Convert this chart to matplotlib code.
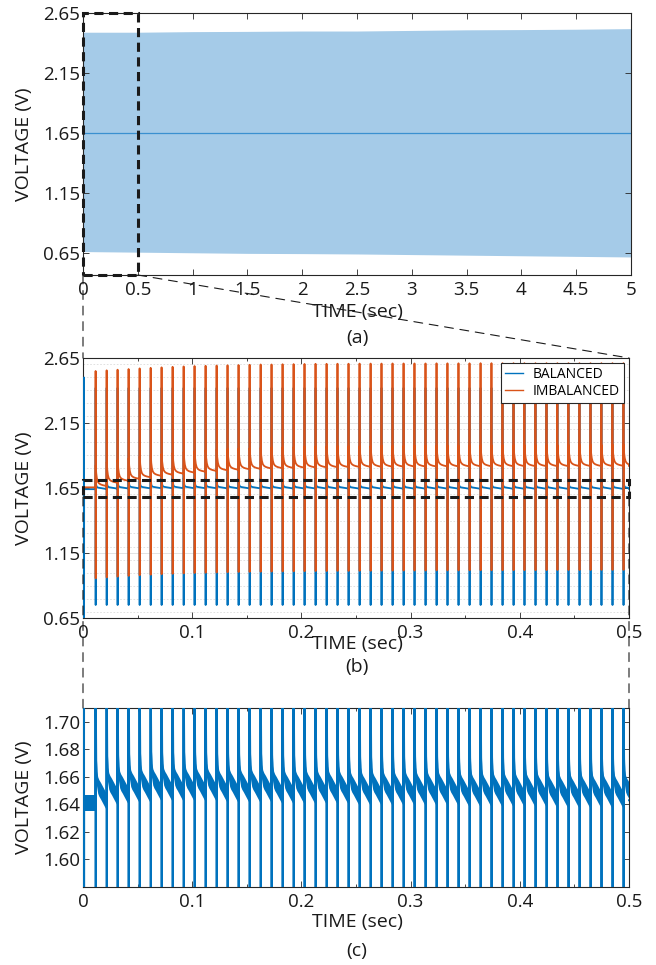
import numpy as np
import matplotlib
matplotlib.use("Agg")
import matplotlib.pyplot as plt
from matplotlib.patches import Rectangle, ConnectionPatch
from matplotlib.ticker import MultipleLocator, FormatStrFormatter

plt.rcParams["font.family"] = ["Open Sans", "DejaVu Sans"]

BLUE = "#0072BD"
ORANGE = "#D95319"
AX_COLOR = "#262626"

# ---- (a) full 5 s record: envelope read every 0.5 s ----
A_TIME = [0.0, 0.5, 1.0, 1.5, 2.0, 2.5, 3.0, 3.5, 4.0, 4.5, 5.0]
A_TOP = [2.49, 2.49, 2.495, 2.497, 2.50, 2.50, 2.505, 2.51, 2.512, 2.515, 2.52]
A_BOTTOM = [0.665, 0.66, 0.655, 0.65, 0.648, 0.645, 0.64, 0.635, 0.63, 0.625, 0.62]
A_MID = 1.65

# ---- (b)/(c) first 0.5 s: one switching pulse every ~10 ms ----
PULSE_T = [0.0115, 0.0216, 0.0316, 0.0417, 0.0518, 0.0619, 0.0719, 0.0820,
           0.0921, 0.1021, 0.1122, 0.1223, 0.1323, 0.1424, 0.1525, 0.1626,
           0.1726, 0.1827, 0.1928, 0.2028, 0.2129, 0.2230, 0.2330, 0.2431,
           0.2532, 0.2633, 0.2733, 0.2834, 0.2935, 0.3035, 0.3136, 0.3237,
           0.3337, 0.3438, 0.3539, 0.3640, 0.3740, 0.3841, 0.3942, 0.4042,
           0.4143, 0.4244, 0.4344, 0.4445, 0.4546, 0.4647, 0.4747, 0.4848,
           0.4949]

# balanced signal
BAL_START = 1.641
BAL_FIRST_SPIKE = (0.0009, 2.50, 0.50)   # time, top, bottom of start-up spike
BAL_TOP = 2.42
BAL_BOTTOM = 0.75
BAL_SETTLE = [1.642, 1.645, 1.646, 1.647, 1.647, 1.648, 1.648, 1.648, 1.648,
              1.648, 1.648, 1.647, 1.647, 1.647, 1.647, 1.647, 1.646, 1.646,
              1.646, 1.646, 1.646, 1.646, 1.646, 1.645, 1.645, 1.645, 1.645,
              1.645, 1.645, 1.645, 1.645, 1.645, 1.645, 1.644, 1.644, 1.644,
              1.644, 1.644, 1.644, 1.644, 1.644, 1.643, 1.643, 1.643, 1.643,
              1.643, 1.643, 1.643, 1.643]

# imbalanced signal
IMB_START = 1.655
IMB_TOP = [2.55, 2.555, 2.56, 2.565, 2.57, 2.574, 2.578, 2.582, 2.585, 2.588,
           2.59, 2.592, 2.594, 2.596, 2.598, 2.60, 2.60, 2.602, 2.603, 2.604,
           2.605, 2.605, 2.606, 2.606, 2.607, 2.607, 2.607, 2.608, 2.608, 2.608,
           2.608, 2.609, 2.609, 2.609, 2.609, 2.61, 2.61, 2.61, 2.61, 2.61,
           2.61, 2.61, 2.61, 2.61, 2.61, 2.61, 2.61, 2.61, 2.61]
IMB_BOTTOM = [0.955, 0.962, 0.968, 0.974, 0.979, 0.983, 0.987, 0.99, 0.993,
              0.996, 0.998, 1.0, 1.002, 1.004, 1.005, 1.006, 1.007, 1.008,
              1.009, 1.01, 1.011, 1.011, 1.012, 1.012, 1.013, 1.013, 1.014,
              1.014, 1.015, 1.015, 1.015, 1.016, 1.016, 1.016, 1.017, 1.017,
              1.017, 1.017, 1.018, 1.018, 1.018, 1.018, 1.019, 1.019, 1.019,
              1.019, 1.02, 1.02, 1.02]
IMB_SETTLE = [1.665, 1.69, 1.705, 1.72, 1.732, 1.743, 1.752, 1.76, 1.768,
              1.775, 1.781, 1.786, 1.79, 1.794, 1.797, 1.80, 1.802, 1.804,
              1.806, 1.808, 1.809, 1.81, 1.811, 1.812, 1.813, 1.813, 1.814,
              1.814, 1.815, 1.815, 1.815, 1.816, 1.816, 1.816, 1.817, 1.817,
              1.817, 1.817, 1.818, 1.818, 1.818, 1.818, 1.818, 1.819, 1.819,
              1.819, 1.819, 1.82, 1.82]

# recovery after each pulse (seconds after the pulse, volts above settle level)
DECAY_DT = [0.0002, 0.0006, 0.0012, 0.002, 0.003, 0.0045, 0.0065, 0.0085, 0.0099]
BAL_DECAY = [0.08, 0.03, 0.016, 0.012, 0.010, 0.008, 0.005, 0.002, 0.0]
IMB_DECAY = [0.16, 0.10, 0.06, 0.035, 0.022, 0.013, 0.007, 0.003, 0.0]
BAND_HALF = 0.006   # measurement noise band seen in (c)
SPIKE_DT = 0.00005
T_END = 0.5


def build_wave(start, settle, top, bottom, decay, first_spike=None):
    t, v = [0.0], [start]
    if first_spike is not None:
        ts, vt, vb = first_spike
        t += [ts, ts + SPIKE_DT, ts + 2 * SPIKE_DT, ts + 3 * SPIKE_DT]
        v += [start, vt, vb, start]
    for k, tk in enumerate(PULSE_T):
        hi = top[k] if np.ndim(top) else top
        lo = bottom[k] if np.ndim(bottom) else bottom
        t += [tk, tk + SPIKE_DT, tk + 2 * SPIKE_DT]
        v += [v[-1], hi, lo]
        t += [tk + d for d in DECAY_DT]
        v += [settle[k] + dv for dv in decay]
    t.append(T_END)
    v.append(v[-1])
    return np.array(t), np.array(v)


def style_axes(ax):
    for sp in ax.spines.values():
        sp.set_color(AX_COLOR)
        sp.set_linewidth(0.8)
    ax.tick_params(which="both", direction="in", top=True, right=True,
                   colors=AX_COLOR, labelcolor="#1a1a1a", width=0.6)
    ax.tick_params(which="major", length=4, labelsize=13.5)
    ax.tick_params(which="minor", length=2.5)
    ax.tick_params(axis="x", pad=4)
    ax.tick_params(axis="y", pad=2)


def px(x, y):
    return x / 656, 1 - y / 965


fig = plt.figure(figsize=(6.56, 9.65), dpi=100)
ax_a = fig.add_axes([83 / 656, 1 - 275 / 965, 548 / 656, 262 / 965])
ax_b = fig.add_axes([83 / 656, 1 - 618 / 965, 546 / 656, 260 / 965])
ax_c = fig.add_axes([83 / 656, 1 - 887 / 965, 546 / 656, 179 / 965])

# ---------------- (a) ----------------
ax_a.fill_between(A_TIME, A_BOTTOM, A_TOP, color="#a5cbe8", lw=0, zorder=1)
ax_a.axhline(A_MID, color="#3a90d0", lw=0.9, zorder=2)
ax_a.set_xlim(0, 5)
ax_a.set_ylim(0.47, 2.65)
ax_a.set_xticks(np.arange(0, 5.01, 0.5))
ax_a.set_xticklabels(["0", "0.5", "1", "1.5", "2", "2.5", "3", "3.5", "4", "4.5", "5"])
ax_a.set_yticks([0.65, 1.15, 1.65, 2.15, 2.65])
ax_a.yaxis.set_major_formatter(FormatStrFormatter("%.2f"))
style_axes(ax_a)
ax_a.add_patch(Rectangle((0, 0.47), 0.5, 2.18, fill=False, ec="#1a1a1a", lw=2.2,
                         ls=(0, (3, 1.8)), clip_on=False, zorder=5))

# ---------------- (b) ----------------
tb, vb = build_wave(BAL_START, BAL_SETTLE, BAL_TOP, BAL_BOTTOM, BAL_DECAY,
                    first_spike=BAL_FIRST_SPIKE)
ti, vi = build_wave(IMB_START, IMB_SETTLE, IMB_TOP, IMB_BOTTOM, IMB_DECAY)
ax_b.plot(tb, vb, color=BLUE, lw=1.3, label="BALANCED", zorder=3)
ax_b.plot(ti, vi, color=ORANGE, lw=1.3, label="IMBALANCED", zorder=4)
ax_b.set_xlim(0, 0.5)
ax_b.set_ylim(0.65, 2.65)
ax_b.set_xticks(np.arange(0, 0.501, 0.1))
ax_b.set_xticklabels(["0", "0.1", "0.2", "0.3", "0.4", "0.5"])
ax_b.xaxis.set_minor_locator(MultipleLocator(0.05))
ax_b.set_yticks([0.65, 1.15, 1.65, 2.15, 2.65])
ax_b.yaxis.set_minor_locator(MultipleLocator(0.1))
ax_b.yaxis.set_major_formatter(FormatStrFormatter("%.2f"))
ax_b.grid(axis="y", which="major", color="#e3e3e3", lw=0.7, zorder=0)
ax_b.grid(axis="y", which="minor", color="#dcdcdc", lw=0.6, ls=(0, (2, 2)), zorder=0)
ax_b.set_axisbelow(True)
style_axes(ax_b)
ax_b.tick_params(axis="y", which="minor", length=0)
leg = ax_b.legend(loc="upper right", fontsize=10, fancybox=False, framealpha=1,
                  edgecolor=AX_COLOR, handlelength=1.3, handletextpad=0.7,
                  borderpad=0.3, labelspacing=0.15, borderaxespad=0.35)
leg.get_frame().set_linewidth(0.8)
for h in leg.get_lines():
    h.set_linewidth(1.0)

C_LIM = (1.58, 1.71)
ax_b.add_patch(Rectangle((0, C_LIM[0]), 0.5, C_LIM[1] - C_LIM[0], fill=False,
                         ec="#1a1a1a", lw=2.2, ls=(0, (3, 1.8)), clip_on=False, zorder=6))

# ---------------- (c) ----------------
ax_c.plot(tb, vb, color=BLUE, lw=1.4, zorder=3)
seg_t = [0.0, PULSE_T[0]]
ax_c.fill_between(seg_t, BAL_START - BAND_HALF, BAL_START + BAND_HALF,
                  color=BLUE, lw=0, zorder=2)
for k, tk in enumerate(PULSE_T):
    nxt = PULSE_T[k + 1] if k + 1 < len(PULSE_T) else T_END
    xs = np.array([tk + d for d in DECAY_DT] + [nxt])
    cs = np.array([BAL_SETTLE[k] + dv for dv in BAL_DECAY] + [BAL_SETTLE[k]])
    ax_c.fill_between(xs, cs - BAND_HALF, cs + BAND_HALF, color=BLUE, lw=0, zorder=2)
ax_c.set_xlim(0, 0.5)
ax_c.set_ylim(*C_LIM)
ax_c.set_xticks(np.arange(0, 0.501, 0.1))
ax_c.set_xticklabels(["0", "0.1", "0.2", "0.3", "0.4", "0.5"])
ax_c.xaxis.set_minor_locator(MultipleLocator(0.05))
ax_c.set_yticks([1.60, 1.62, 1.64, 1.66, 1.68, 1.70])
ax_c.yaxis.set_major_formatter(FormatStrFormatter("%.2f"))
style_axes(ax_c)

# ---------------- zoom connectors ----------------
for xa in (0, 0.5):
    fig.add_artist(ConnectionPatch(xyA=(xa, 0.47), coordsA=ax_a.transData,
                                   xyB=(xa, 2.65), coordsB=ax_b.transData,
                                   color="#1a1a1a", lw=0.8, ls=(0, (8, 6)), zorder=10))
    fig.add_artist(ConnectionPatch(xyA=(xa, C_LIM[0]), coordsA=ax_b.transData,
                                   xyB=(xa, C_LIM[1]), coordsB=ax_c.transData,
                                   color="#1a1a1a", lw=0.8, ls=(0, (8, 6)), zorder=10))

# ---------------- labels ----------------
lab = dict(fontsize=14, color="#1a1a1a", ha="center", va="center")
for yc in (144, 488, 797):
    fig.text(*px(24, yc), "VOLTAGE (V)", rotation=90, **lab)
for ylab, ypan, name in ((312, 338, "(a)"), (644, 667, "(b)"), (922, 951, "(c)")):
    fig.text(*px(357, ylab), "TIME (sec)", **lab)
    fig.text(*px(357, ypan), name, **lab)

fig.savefig("out.png", dpi=100)
